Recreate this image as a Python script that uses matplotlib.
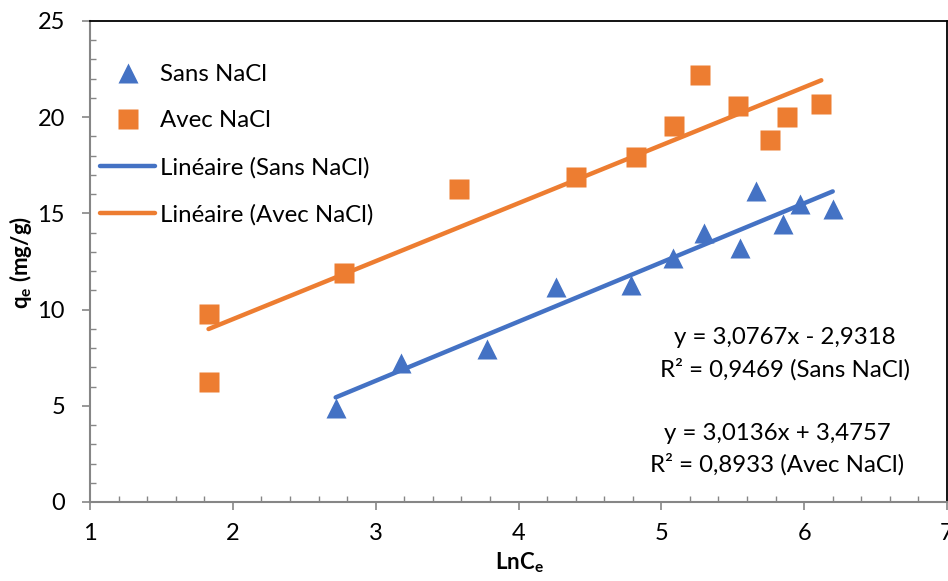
import matplotlib
matplotlib.use("Agg")
import matplotlib.pyplot as plt
import numpy as np
from matplotlib.lines import Line2D
from matplotlib.ticker import MultipleLocator

plt.rcParams['font.family'] = ['Lato', 'DejaVu Sans']
plt.rcParams['mathtext.fontset'] = 'custom'
plt.rcParams['mathtext.rm'] = 'Lato'
plt.rcParams['mathtext.bf'] = 'Lato:bold'
plt.rcParams['mathtext.it'] = 'Lato:italic'

# Data
sans_x = [2.72, 3.18, 3.78, 4.26, 4.79, 5.08, 5.30, 5.55, 5.66, 5.85, 5.97, 6.20]
sans_y = [4.87, 7.24, 7.95, 11.19, 11.28, 12.67, 14.0, 13.19, 16.18, 14.45, 15.49, 15.23]
avec_x = [1.83, 1.83, 2.78, 3.58, 4.40, 4.82, 5.09, 5.27, 5.54, 5.76, 5.88, 6.12]
avec_y = [9.77, 6.24, 11.92, 16.27, 16.91, 17.91, 19.56, 22.21, 20.58, 18.80, 20.03, 20.67]

sans_slope, sans_intercept, sans_r2 = 3.0767, -2.9318, 0.9469
avec_slope, avec_intercept, avec_r2 = 3.0136, 3.4757, 0.8933

labels = ['Sans NaCl', 'Avec NaCl', 'Linéaire (Sans NaCl)', 'Linéaire (Avec NaCl)']
x_ticks = [1, 2, 3, 4, 5, 6, 7]
y_ticks = [0, 5, 10, 15, 20, 25]

BLUE = '#4472C4'
ORANGE = '#ED7D31'
GRAY = '#868686'

W, H = 948, 581
fig = plt.figure(figsize=(W / 100, H / 100), dpi=100)
ax = fig.add_axes([90 / W, 1 - 502 / H, (947 - 90) / W, (502 - 21) / H])

# trendlines
sx = np.array([min(sans_x), max(sans_x)])
ax.plot(sx, sans_slope * sx + sans_intercept, color=BLUE, lw=3.2, solid_capstyle='round', zorder=2)
axx = np.array([min(avec_x), max(avec_x)])
ax.plot(axx, avec_slope * axx + avec_intercept, color=ORANGE, lw=3.2, solid_capstyle='round', zorder=2)

ax.plot(sans_x, sans_y, linestyle='none', marker='^', ms=14, color=BLUE, mec='none', zorder=3)
ax.plot(avec_x, avec_y, linestyle='none', marker='s', ms=14, color=ORANGE, mec='none', zorder=3)

ax.set_xlim(1, 7)
ax.set_ylim(0, 25)
ax.set_xticks(x_ticks)
ax.set_yticks(y_ticks)
ax.xaxis.set_minor_locator(MultipleLocator(0.2))
ax.yaxis.set_minor_locator(MultipleLocator(1))

for s in ['left', 'bottom']:
    ax.spines[s].set_color(GRAY)
    ax.spines[s].set_linewidth(1.5)
for s in ['top', 'right']:
    ax.spines[s].set_color('black')
    ax.spines[s].set_linewidth(1.3)

ax.tick_params(axis='both', which='major', direction='out', length=6, width=1.2,
               color=GRAY, labelsize=17, labelcolor='black')
ax.tick_params(axis='both', which='minor', direction='in', length=4.5, width=1.0, color=GRAY)
ax.tick_params(axis='y', which='major', pad=12)
ax.tick_params(axis='x', which='major', pad=9)
ax.tick_params(top=False, right=False, which='both')

fig.text(21 / W, 1 - 262 / H, r'$\mathbf{q_e}$ (mg/g)', rotation=90, ha='center', va='center',
         fontsize=16, fontweight='bold')
fig.text(519 / W, 1 - 563 / H, r'$\mathbf{LnC_e}$', ha='center', va='center',
         fontsize=16, fontweight='bold')

eq_fs = 17.3
fig.text(785 / W, 1 - 338 / H, f"y = {sans_slope:.4f}x - {abs(sans_intercept):.4f}".replace('.', ','),
         ha='center', va='center', fontsize=eq_fs)
fig.text(785 / W, 1 - 369 / H, f"R² = {sans_r2:.4f} (Sans NaCl)".replace('.', ','),
         ha='center', va='center', fontsize=eq_fs)
fig.text(777 / W, 1 - 433 / H, f"y = {avec_slope:.4f}x + {avec_intercept:.4f}".replace('.', ','),
         ha='center', va='center', fontsize=eq_fs)
fig.text(777 / W, 1 - 464 / H, f"R² = {avec_r2:.4f} (Avec NaCl)".replace('.', ','),
         ha='center', va='center', fontsize=eq_fs)

handles = [
    Line2D([], [], linestyle='none', marker='^', ms=14, color=BLUE, mec='none'),
    Line2D([], [], linestyle='none', marker='s', ms=14, color=ORANGE, mec='none'),
    Line2D([], [], color=BLUE, lw=3.2, solid_capstyle='round'),
    Line2D([], [], color=ORANGE, lw=3.2, solid_capstyle='round'),
]
fig.legend(handles, labels, loc='upper left', bbox_to_anchor=(100 / W, 1 - 64 / H),
           frameon=False, fontsize=17.3, handlelength=2.3, handletextpad=0.2,
           labelspacing=1.06, borderpad=0, borderaxespad=0)

fig.savefig('out.png', dpi=100)
